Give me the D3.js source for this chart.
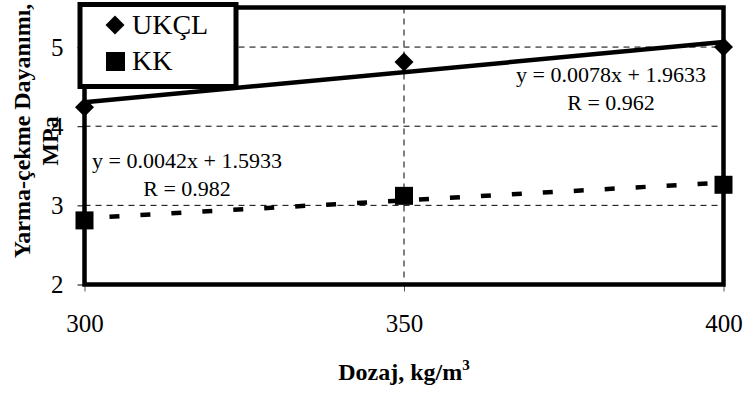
<!DOCTYPE html>
<html>
<head>
<meta charset="utf-8">
<script src="https://cdn.jsdelivr.net/npm/d3@7"></script>
<style>
  html, body { margin: 0; padding: 0; background: #fff; }
  svg { display: block; }
  svg text { font-family: "Liberation Serif", "Times New Roman", serif !important; fill: #000; }
</style>
</head>
<body>
<svg id="chart"></svg>
<script>
const dosages = [300, 350, 400];
const ukclValues = [4.24, 4.81, 5.00];
const kkValues = [2.81, 3.12, 3.26];
const seriesNames = ['UKÇL', 'KK'];
const yTicks = [2, 3, 4, 5];
const xTicks = [300, 350, 400];
const ukclLabel = ['y = 0.0078x + 1.9633', 'R = 0.962'];
const kkLabel = ['y = 0.0042x + 1.5933', 'R = 0.982'];

const W = 744, H = 394;
const plotLeft = 84.5, plotRight = 723.5, plotTop = 7.5, plotBottom = 284.5;

const svg = d3.select('#chart').attr('width', W).attr('height', H);

const x = d3.scaleLinear().domain([300, 400]).range([plotLeft, plotRight]);
const y = d3.scaleLinear().domain([2, 5.5]).range([plotBottom, plotTop]);

// grid
const g = svg.append('g');
g.selectAll('.hgrid')
    .data([3, 4, 5])
    .enter()
    .append('line')
    .attr('x1', plotLeft).attr('x2', plotRight)
    .attr('y1', d => y(d)).attr('y2', d => y(d))
    .attr('stroke', '#000').attr('stroke-width', 1)
    .attr('stroke-dasharray', '6,5');
g.selectAll('.vgrid')
    .data([350])
    .enter()
    .append('line')
    .attr('x1', d => x(d)).attr('x2', d => x(d))
    .attr('y1', plotTop).attr('y2', plotBottom)
    .attr('stroke', '#000').attr('stroke-width', 1)
    .attr('stroke-dasharray', '6,5');

// axes
const yAxis = d3.axisLeft(y).tickValues(yTicks).tickSize(7).tickPadding(14).tickFormat(d3.format('d'));
const yG = svg.append('g').attr('transform', `translate(${plotLeft},0)`).call(yAxis);
yG.select('.domain').remove();
yG.selectAll('text').attr('font-size', 25);
yG.selectAll('line').attr('stroke', '#000');

const xAxis = d3.axisBottom(x).tickValues(xTicks).tickSize(7).tickPadding(23).tickFormat(d3.format('d'));
const xG = svg.append('g').attr('transform', `translate(0,${plotBottom})`).call(xAxis);
xG.select('.domain').remove();
xG.selectAll('text').attr('font-size', 25);
xG.selectAll('line').attr('stroke', '#555');

// regression lines
function fit(xs, ys) {
    const mx = d3.mean(xs), my = d3.mean(ys);
    const b = d3.sum(xs, (v, i) => (v - mx) * (ys[i] - my)) / d3.sum(xs, v => (v - mx) * (v - mx));
    return v => my + b * (v - mx);
}
const ukFit = fit(dosages, ukclValues);
const kkFit = fit(dosages, kkValues);
const line = d3.line().x(d => x(d[0])).y(d => y(d[1]));

svg.append('path')
    .datum([[300, ukFit(300)], [400, ukFit(400)]])
    .attr('d', line)
    .attr('fill', 'none').attr('stroke', '#000').attr('stroke-width', 4.5);
svg.append('path')
    .datum([[300, kkFit(300)], [400, kkFit(400)]])
    .attr('d', line)
    .attr('fill', 'none').attr('stroke', '#000').attr('stroke-width', 4.5)
    .attr('stroke-dasharray', '10,21').attr('stroke-dashoffset', -25);

// plot frame
svg.append('rect')
    .attr('x', plotLeft).attr('y', plotTop)
    .attr('width', plotRight - plotLeft).attr('height', plotBottom - plotTop)
    .attr('fill', 'none').attr('stroke', '#000').attr('stroke-width', 4.5);

// markers
const diamond = d3.symbol().type(d3.symbolSquare).size(180);
svg.selectAll('.uk')
    .data(dosages.map((d, i) => [d, ukclValues[i]]))
    .enter()
    .append('path')
    .attr('d', diamond)
    .attr('transform', d => `translate(${x(d[0])},${y(d[1])}) rotate(45)`)
    .attr('fill', '#000');
svg.selectAll('.kk')
    .data(dosages.map((d, i) => [d, kkValues[i]]))
    .enter()
    .append('rect')
    .attr('x', d => x(d[0]) - 9).attr('y', d => y(d[1]) - 9)
    .attr('width', 18).attr('height', 18)
    .attr('fill', '#000');

// equation labels
function eq(lines, cx, y0) {
    svg.selectAll(null)
        .data(lines)
        .enter()
        .append('text')
        .attr('x', cx).attr('y', (d, i) => y0 + i * 28)
        .attr('text-anchor', 'middle')
        .attr('font-size', 22)
        .text(d => d);
}
eq(ukclLabel, 611, 82);
eq(kkLabel, 187, 168);

// legend
const lg = svg.append('g');
lg.append('rect')
    .attr('x', 80).attr('y', 4.5).attr('width', 156).attr('height', 82)
    .attr('fill', '#fff').attr('stroke', '#000').attr('stroke-width', 5);
lg.append('path').attr('d', diamond).attr('transform', 'translate(115,25) rotate(45)').attr('fill', '#000');
lg.append('rect').attr('x', 106).attr('y', 52).attr('width', 19).attr('height', 19).attr('fill', '#000');
lg.selectAll('.lt')
    .data(seriesNames)
    .enter()
    .append('text')
    .attr('x', 132).attr('y', (d, i) => 34 + i * 36)
    .attr('font-size', 28)
    .text(d => d);

// axis titles
svg.append('text')
    .attr('x', 404).attr('y', 380)
    .attr('text-anchor', 'middle')
    .attr('font-size', 24).attr('font-weight', 'bold')
    .html('Dozaj, kg/m<tspan dy="-10" font-size="15">3</tspan>');

svg.append('text')
    .attr('transform', 'translate(30,131) rotate(-90)')
    .attr('text-anchor', 'middle')
    .attr('font-size', 24).attr('font-weight', 'bold')
    .text('Yarma-çekme Dayanımı,');
svg.append('text')
    .attr('transform', 'translate(58,141) rotate(-90)')
    .attr('text-anchor', 'middle')
    .attr('font-size', 24).attr('font-weight', 'bold')
    .text('MPa');
</script>
</body>
</html>
